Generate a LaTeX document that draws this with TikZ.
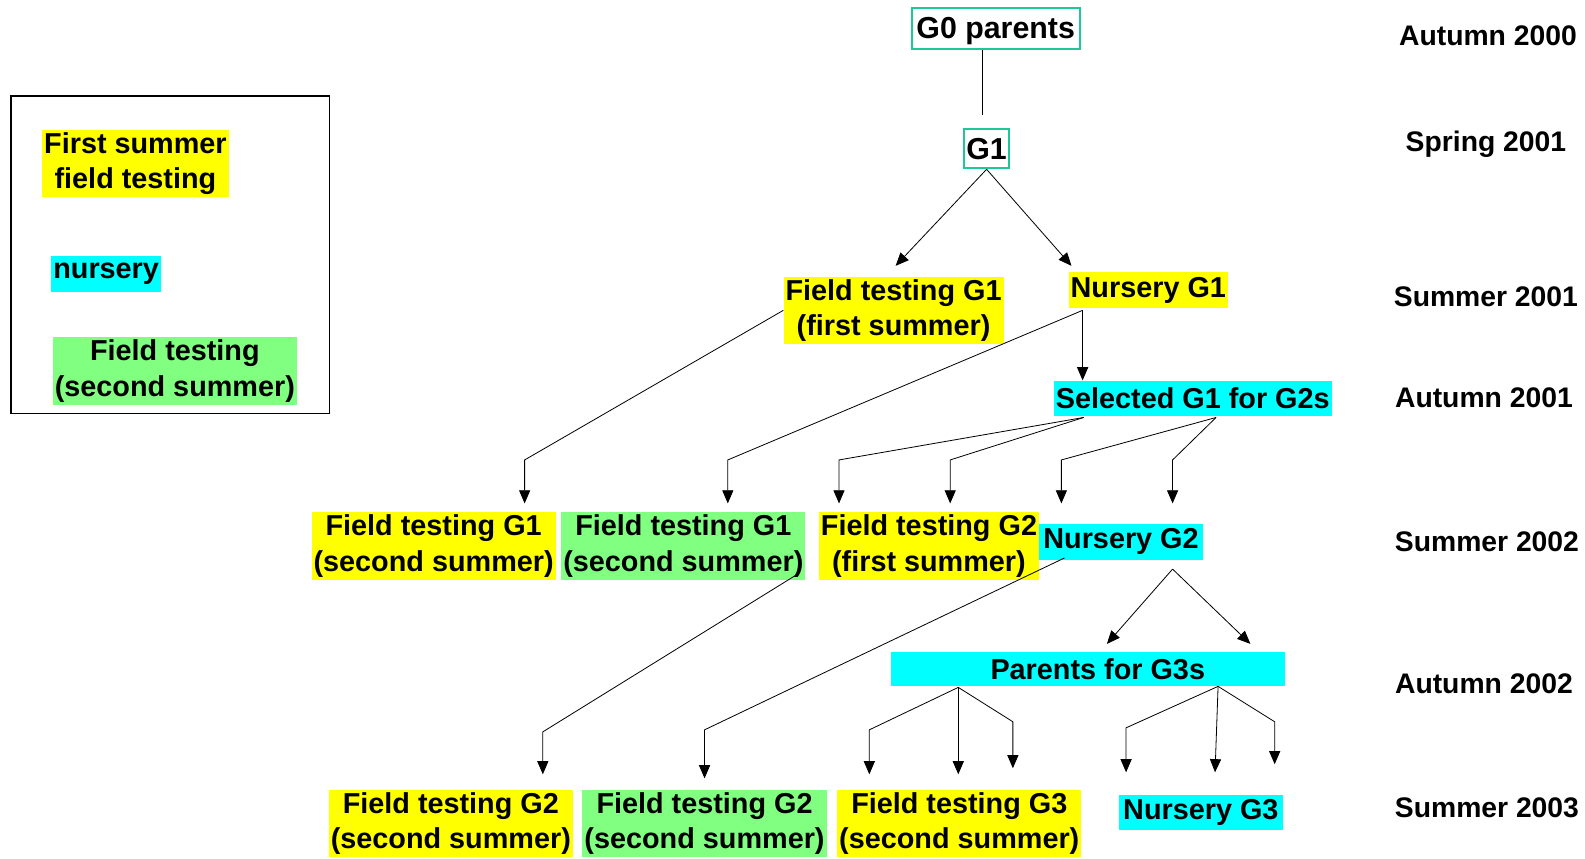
\documentclass[tikz,border=0pt]{standalone}
\usepackage{fontspec}
\setmainfont{Liberation Sans}
\usetikzlibrary{arrows.meta}
\definecolor{hlyellow}{RGB}{255,255,0}
\definecolor{hlcyan}{RGB}{0,255,255}
\definecolor{hlgreen}{RGB}{128,255,128}
\definecolor{genteal}{RGB}{30,200,150}
\tikzset{
	stage/.style={align=center, inner xsep=2pt, inner ysep=2.5pt, minimum height=35pt, font=\fontsize{28.5}{35}\selectfont\bfseries},
	firstsummer/.style={stage, fill=hlyellow},
	nurserybox/.style={stage, fill=hlcyan},
	secondsummer/.style={stage, fill=hlgreen},
	genbox/.style={stage, draw=genteal, line width=2pt, text depth=0pt, font=\fontsize{30}{36}\selectfont\bfseries},
	season/.style={font=\fontsize{28}{34}\selectfont\bfseries},
	link/.style={line width=0.8pt},
	flow/.style={link, -{Triangle[length=13pt,width=11pt]}}
}
\begin{document}
\begin{tikzpicture}[x=1pt, y=-1pt]
			\useasboundingbox (0,0) rectangle (1568,849);
			\node[genbox, minimum width=166pt, minimum height=40pt] (g0) at (985, 28) {G0 parents};
			\node[genbox, minimum width=43pt, minimum height=39pt] (g1) at (976, 147) {G1};
			\node[firstsummer] (ft1a) at (884, 307) {Field testing G1\\(first summer)};
			\node[firstsummer] (nu1) at (1136, 287) {Nursery G1};
			\node[nurserybox] (sel1) at (1180, 394) {Selected G1 for G2s};
			\node[firstsummer] (ft1b) at (429, 540) {Field testing G1\\(second summer)};
			\node[secondsummer] (ft1c) at (676, 540) {Field testing G1\\(second summer)};
			\node[firstsummer] (ft2a) at (919, 540) {Field testing G2\\(first summer)};
			\node[nurserybox, minimum width=163pt] (nu2) at (1109, 536) {Nursery G2};
			\node[nurserybox, minimum width=390pt, minimum height=34pt] (par3) at (1076, 662) {\hspace{20pt}Parents for G3s};
			\node[firstsummer] (ft2b) at (446, 815) {Field testing G2\\(second summer)};
			\node[secondsummer] (ft2c) at (697, 815) {Field testing G2\\(second summer)};
			\node[firstsummer] (ft3) at (949, 815) {Field testing G3\\(second summer)};
			\node[nurserybox, minimum width=163pt] (nu3) at (1188, 804) {Nursery G3};
			\node[season] (y0) at (1472, 35) {Autumn 2000};
			\node[season] (y1) at (1470, 143) {Spring 2001};
			\node[season] (y2) at (1470, 294) {Summer 2001};
			\node[season] (y3) at (1468, 393) {Autumn 2001};
			\node[season] (y4) at (1471, 536) {Summer 2002};
			\node[season] (y5) at (1468, 676) {Autumn 2002};
			\node[season] (y6) at (1471, 799) {Summer 2003};
			\draw[line width=1.5pt] (11, 95) rectangle (326, 409);
			\node[firstsummer] (keyfirst) at (134, 162) {First summer\\field testing};
			\node[nurserybox] (keynursery) at (105, 271) {nursery};
			\node[secondsummer] (keysecond) at (173, 367) {Field testing\\(second summer)};
			\coordinate (n1o) at (1071, 307);
			\coordinate (s1o) at (1072, 413);
			\coordinate (s2o) at (1203, 413);
			\coordinate (n2o) at (1160, 563);
			\coordinate (n2l) at (1053, 552);
			\coordinate (f1o) at (789, 568);
			\coordinate (p1o) at (948, 680);
			\coordinate (p2o) at (1205, 679);
			\draw[link] (g0.south -| 972, 0) -- (972, 114);
			\draw[flow] (g1.south) -- (886, 263);
			\draw[flow] (g1.south) -- (1060, 263);
			\draw[flow] (ft1a.west) -- (519, 455) -- (519, 498);
			\draw[flow] (n1o) -- (n1o |- sel1.north);
			\draw[flow] (n1o) -- (720, 455) -- (720, 498);
			\draw[flow] (s1o) -- (830, 455) -- (830, 498);
			\draw[flow] (s1o) -- (940, 455) -- (940, 498);
			\draw[flow] (s2o) -- (1050, 455) -- (1050, 498);
			\draw[flow] (s2o) -- (1160, 455) -- (1160, 498);
			\draw[flow] (f1o) -- (537, 724) -- (537, 766);
			\draw[flow] (n2l) -- (697, 722) -- (697, 770);
			\draw[flow] (n2o) -- (1095, 637);
			\draw[flow] (n2o) -- (1237, 637);
			\draw[flow] (p1o) -- (860, 722) -- (860, 766);
			\draw[flow] (p1o) -- (948, 766);
			\draw[flow] (p1o) -- (1002, 714) -- (1002, 760);
			\draw[flow] (p2o) -- (1114, 720) -- (1114, 764);
			\draw[flow] (p2o) -- (1202, 764);
			\draw[flow] (p2o) -- (1261, 714) -- (1261, 756);
		\end{tikzpicture}
\end{document}
